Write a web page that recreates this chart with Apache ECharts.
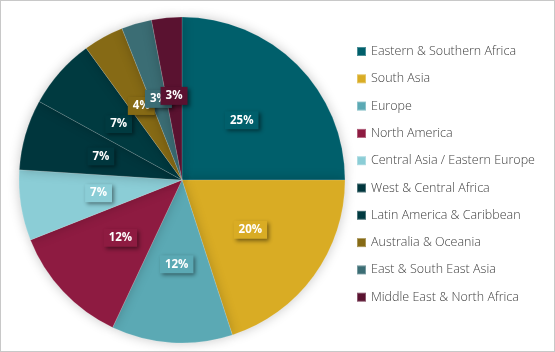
<!DOCTYPE html>
<html>
<head>
<meta charset="utf-8">
<script src="https://cdn.jsdelivr.net/npm/echarts@6/dist/echarts.min.js"></script>
<style>
  html, body { margin: 0; padding: 0; background: #fff; }
  #chart { width: 553px; height: 350px; border: 1px solid #c8c8c8; }
</style>
</head>
<body>
<div id="chart"></div>
<script>
// regions and their share
var regions = [
  "Eastern & Southern Africa",
  "South Asia",
  "Europe",
  "North America",
  "Central Asia / Eastern Europe",
  "West & Central Africa",
  "Latin America & Caribbean",
  "Australia & Oceania",
  "East & South East Asia",
  "Middle East & North Africa"
];
var shares = [25, 20, 12, 12, 7, 7, 7, 4, 3, 3];
var colors = [
  "#005f6b", "#d9ac24", "#5ba9b4", "#8e1b41", "#8bcdd6",
  "#00363d", "#003a40", "#866a15", "#3b6d74", "#5a1230"
];

var chart = echarts.init(document.getElementById("chart"));

var data = [];
for (var i = 0; i < regions.length; i++) {
  data.push({
    name: regions[i],
    value: shares[i],
    itemStyle: { color: colors[i] },
    label: { backgroundColor: colors[i] }
  });
}

chart.setOption({
  animation: false,
  legend: {
    orient: "vertical",
    left: 350,
    top: 39,
    itemWidth: 9,
    itemHeight: 9,
    itemGap: 14.3,
    icon: "rect",
    textStyle: { fontFamily: "Open Sans", fontSize: 12.5, color: "#404040", fontWeight: 300 }
  },
  series: [{
    type: "pie",
    center: [181, 179],
    radius: [0, 163],
    startAngle: 90,
    clockwise: true,
    data: data,
    itemStyle: {
      borderColor: "rgba(255,255,255,0.3)",
      borderWidth: 0.5,
      shadowBlur: 12,
      shadowColor: "rgba(0,0,0,0.22)"
    },
    label: {
      position: "inside",
      formatter: "{c}%",
      color: "#fff",
      fontFamily: "Open Sans",
      fontWeight: "bold",
      fontSize: 11.5,
      padding: [3, 5, 3, 5],
      shadowBlur: 4,
      shadowOffsetX: 2,
      shadowOffsetY: 2,
      shadowColor: "rgba(0,0,0,0.45)"
    },
    labelLayout: { hideOverlap: false },
    labelLine: { show: false },
    emphasis: { disabled: true }
  }]
});
</script>
</body>
</html>
